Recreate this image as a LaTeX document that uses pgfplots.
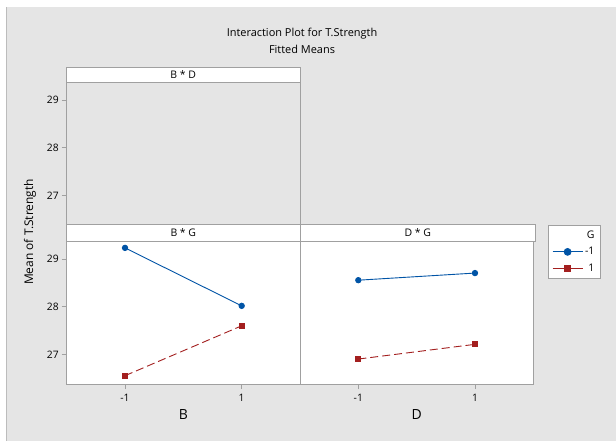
\documentclass[border=0pt]{standalone}
\usepackage{pgfplots}
\pgfplotsset{compat=1.18}
\usepackage{fontspec}
\setmainfont{Open Sans}
\definecolor{bgc}{HTML}{E5E5E5}
\definecolor{fr}{HTML}{A0A0A0}
\definecolor{mblue}{HTML}{0054A6}
\definecolor{mred}{HTML}{A31F1F}
\pgfplotsset{
  panel/.style={
    scale only axis, anchor=south west, width=233.3bp,
    xmin=-2, xmax=2, clip=false,
    axis line style={fr, line width=0.8bp},
    tick style={fr, line width=0.7bp},
    tick align=outside, major tick length=5bp,
    xtick pos=bottom, ytick pos=left,
    tick label style={font=\fontsize{10.3}{11}\selectfont, text=black},
    xticklabel style={yshift=-2bp},
    yticklabel style={xshift=0.5bp},
  },
  bluel/.style={mblue, line width=0.9bp, mark=*, mark size=2.7bp, mark options={solid}},
  redl/.style={mred, line width=0.9bp, dash pattern=on 8bp off 4bp, mark=square*, mark size=2.6bp, mark options={solid}},
}
\begin{document}
\begin{tikzpicture}
\useasboundingbox (0bp,0bp) rectangle (616bp,441bp);
\fill[white] (0bp,0bp) rectangle (616bp,441bp);
\fill[bgc] (6bp,0bp) rectangle (616bp,434bp);
\draw[fr!70, line width=0.6bp] (6bp,0bp) -- (6bp,434bp);

% titles
\node[font=\fontsize{11}{12}\selectfont] at (302bp,407bp) {Interaction Plot for T.Strength};
\node[font=\fontsize{11}{12}\selectfont] at (302bp,392bp) {Fitted Means};
\node[rotate=90, font=\fontsize{12}{13}\selectfont] at (30bp,209bp) {Mean of T.Strength};

% B * D panel (empty)
\begin{axis}[panel, at={(66.7bp,217bp)}, height=142bp,
  ymin=26.407, ymax=29.377, ytick={27,28,29}, yticklabels={27,28,29},
  xtick=\empty, axis background/.style={fill=bgc}]
\end{axis}

% B * G panel
\begin{axis}[panel, at={(66.7bp,57bp)}, height=143bp,
  ymin=26.375, ymax=29.385, ytick={27,28,29}, yticklabels={27,28,29},
  xtick={-1,1}, xticklabels={-1,1},
  axis background/.style={fill=white},
  xlabel={B}, xlabel style={at={(axis description cs:0.5,0)}, anchor=center, yshift=-31bp, font=\fontsize{14}{15}\selectfont}]
\addplot[bluel] coordinates {(-1,29.24) (1,28.02)};
\addplot[redl] coordinates {(-1,26.55) (1,27.60)};
\end{axis}

% D * G panel
\begin{axis}[panel, at={(300bp,57bp)}, height=143bp,
  ymin=26.375, ymax=29.385, ytick=\empty,
  xtick={-1,1}, xticklabels={-1,1},
  axis background/.style={fill=white},
  xlabel={D}, xlabel style={at={(axis description cs:0.5,0)}, anchor=center, yshift=-31bp, font=\fontsize{14}{15}\selectfont},
  legend style={at={(1,1)}, anchor=north west, xshift=15bp, yshift=16bp,
    draw=fr, fill=white, line width=0.7bp, font=\fontsize{10.5}{11}\selectfont,
    row sep=3.5bp, inner sep=3.5bp},
  legend cell align=right,
  legend image code/.code={\draw[mark repeat=2,mark phase=2,#1] plot coordinates {(0bp,0bp) (15bp,0bp) (30bp,0bp)};}]
\addlegendimage{empty legend}
\addlegendentry{G}
\addlegendimage{mblue, line width=0.9bp, mark=*, mark size=3.4bp}
\addlegendentry{-1}
\addlegendimage{mred, line width=0.9bp, mark=square*, mark size=3.3bp}
\addlegendentry{1}
\addplot[bluel, forget plot] coordinates {(-1,28.56) (1,28.71)};
\addplot[redl, forget plot] coordinates {(-1,26.90) (1,27.21)};
\end{axis}

% strips
\draw[fr, fill=white, line width=0.8bp] (66.7bp,359bp) rectangle (300bp,374bp);
\node[font=\fontsize{10.5}{11}\selectfont] at (183.3bp,366.5bp) {B * D};
\draw[fr, fill=white, line width=0.8bp] (66.7bp,200bp) rectangle (300bp,217bp);
\node[font=\fontsize{10.5}{11}\selectfont] at (183.3bp,208.5bp) {B * G};
\draw[fr, fill=white, line width=0.8bp] (300bp,200bp) rectangle (535.7bp,217bp);
\node[font=\fontsize{10.5}{11}\selectfont] at (417.8bp,208.5bp) {D * G};
\end{tikzpicture}
\end{document}
